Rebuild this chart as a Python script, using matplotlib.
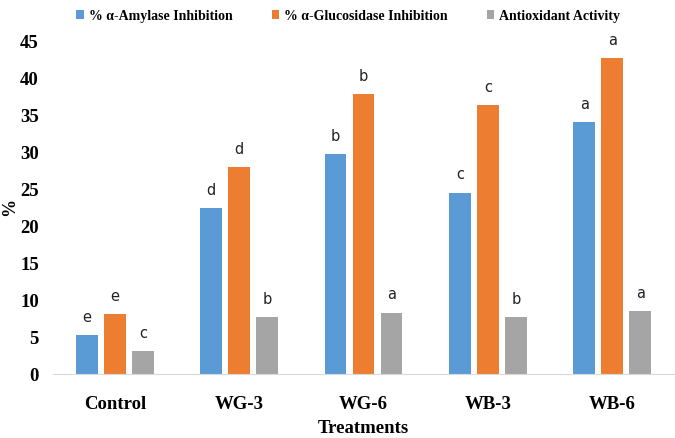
import matplotlib
matplotlib.use("Agg")
import matplotlib.pyplot as plt
import numpy as np

categories = ["Control", "WG-3", "WG-6", "WB-3", "WB-6"]
series_names = ["% α-Amylase Inhibition", "% α-Glucosidase Inhibition", "Antioxidant Activity"]
amylase = [5.2, 22.4, 29.7, 24.5, 34.0]
glucosidase = [8.1, 27.9, 37.8, 36.3, 42.7]
antioxidant = [3.1, 7.7, 8.3, 7.7, 8.5]
amylase_letters = ["e", "d", "b", "c", "a"]
glucosidase_letters = ["e", "d", "b", "c", "a"]
antioxidant_letters = ["c", "b", "a", "b", "a"]
yticks = [0, 5, 10, 15, 20, 25, 30, 35, 40, 45]

colors = ["#5B9BD5", "#ED7D31", "#A5A5A5"]
serif = "Liberation Serif"

fig = plt.figure(figsize=(6.75, 4.39), dpi=100)
ax = fig.add_axes([0.078, 0.1458, 0.921, 0.759])

x = np.arange(len(categories))
w = 0.173
step = 0.225
data = [amylase, glucosidase, antioxidant]
letters = [amylase_letters, glucosidase_letters, antioxidant_letters]
for i, (vals, lets, c, name) in enumerate(zip(data, letters, colors, series_names)):
    pos = x + (i - 1) * step
    ax.bar(pos, vals, width=w, color=c, label=name)
    for p, v, l in zip(pos, vals, lets):
        ax.text(p, v + 1.5, l, ha="center", va="bottom", fontsize=10.5,
                family="DejaVu Sans", color="#222222")

ax.set_xlim(-0.5, len(categories) - 0.5)
ax.set_ylim(0, 45)
ax.set_yticks(yticks)
ax.set_yticklabels([str(t) for t in yticks], fontsize=13.5, fontweight="bold", family=serif)
ax.set_xticks(x)
ax.set_xticklabels(categories, fontsize=13.5, fontweight="bold", family=serif)
ax.tick_params(axis="y", length=0, pad=10)
ax.tick_params(axis="x", length=0, pad=15)
for s in ["top", "right", "left"]:
    ax.spines[s].set_visible(False)
ax.spines["bottom"].set_color("#D9D9D9")
fig.text(9.5 / 675, 1 - 207 / 439, "%", rotation=90, ha="center", va="center",
         fontsize=13, fontweight="bold", family=serif)
ax.set_xlabel("Treatments", fontsize=13.5, fontweight="bold", family=serif, labelpad=5)

fig.legend(loc="upper center", bbox_to_anchor=(0.516, 1.005), ncol=3, frameon=False,
           prop={"family": serif, "weight": "bold", "size": 10},
           handlelength=0.55, handleheight=0.55, handletextpad=0.35, columnspacing=2.8)

fig.savefig("out.png", dpi=100)
